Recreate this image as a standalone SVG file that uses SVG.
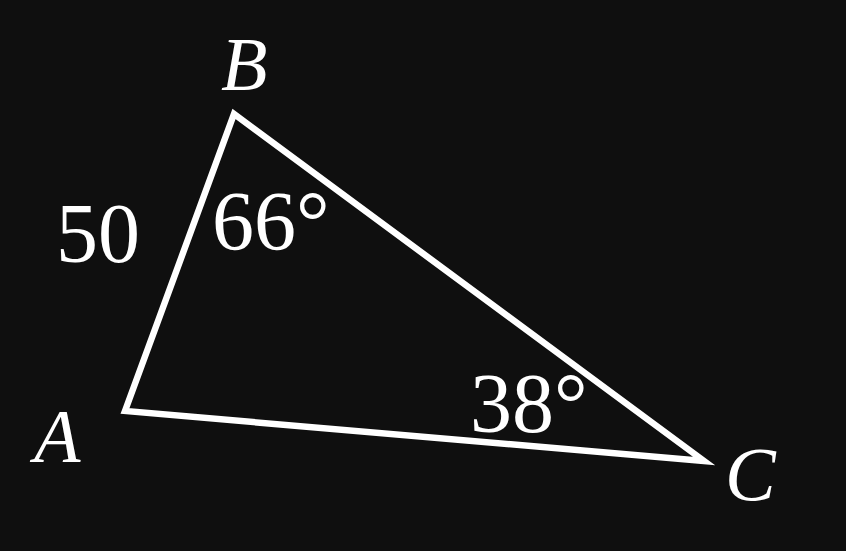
<svg xmlns="http://www.w3.org/2000/svg" width="846" height="551" viewBox="0 0 846 551">
<style>
.lbl{font-family:"Liberation Serif","DejaVu Serif",serif;fill:#fff}
.it{font-style:italic;font-size:76px}
.num{font-size:84px}
</style>
<rect width="846" height="551" fill="#0f0f0f"/>
<g id="connectors">
<polygon points="125,411 234,114 704,461" fill="none" stroke="#fff" stroke-width="6.5" stroke-linejoin="miter"/>
</g>
<g id="A"><text class="lbl it" x="34" y="462">A</text></g>
<g id="B"><text class="lbl it" x="221" y="90">B</text></g>
<g id="C"><text class="lbl it" x="725" y="500">C</text></g>
<g id="side"><text class="lbl num" x="56" y="262">50</text></g>
<g id="angleB"><text class="lbl num" x="212" y="250">66°</text></g>
<g id="angleC"><text class="lbl num" x="470" y="432">38°</text></g>
</svg>
